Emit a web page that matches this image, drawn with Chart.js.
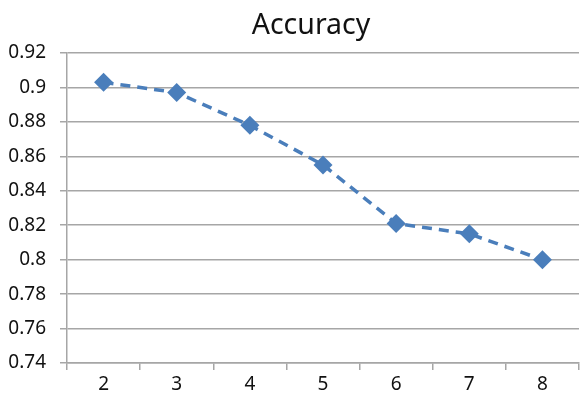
<!DOCTYPE html>
<html>
<head>
<meta charset="utf-8">
<script src="https://cdn.jsdelivr.net/npm/chart.js@4/dist/chart.umd.min.js"></script>
<style>
  html, body { margin: 0; padding: 0; background: #fff; }
  #wrap { width: 580px; height: 403px; }
</style>
</head>
<body>
<div id="wrap"><canvas id="c" width="580" height="403"></canvas></div>
<script>
// Accuracy per setting (x = 2..8)
const categories = ['2', '3', '4', '5', '6', '7', '8'];
const accuracy = [0.903, 0.897, 0.878, 0.855, 0.821, 0.815, 0.800];
const yTicks = [0.74, 0.76, 0.78, 0.80, 0.82, 0.84, 0.86, 0.88, 0.90, 0.92];
const titleText = 'Accuracy';

const FONT = '"Noto Sans", "Open Sans", sans-serif';
const BLUE = '#4A7EBB';
const GRID = '#A6A6A6';

// Title centred over the plotting area
const titlePlugin = {
  id: 'plotTitle',
  afterDraw(chart) {
    const { ctx } = chart;
    ctx.save();
    ctx.font = '28.5px ' + FONT;
    ctx.fillStyle = '#111';
    ctx.textAlign = 'center';
    ctx.textBaseline = 'middle';
    ctx.fillText(titleText, 311, 26);
    ctx.restore();
  }
};

new Chart(document.getElementById('c'), {
  type: 'line',
  data: {
    labels: categories,
    datasets: [{
      data: accuracy,
      borderColor: BLUE,
      backgroundColor: BLUE,
      borderWidth: 3.5,
      borderDash: [10, 7],
      tension: 0,
      pointStyle: 'rectRot',
      pointRadius: 9.5,
      pointHoverRadius: 9.5,
      pointBackgroundColor: BLUE,
      pointBorderColor: BLUE,
      pointBorderWidth: 0
    }]
  },
  options: {
    responsive: false,
    animation: false,
    events: [],
    layout: { autoPadding: false, padding: { top: 53, right: 1, left: 0, bottom: 0 } },
    plugins: {
      legend: { display: false },
      title: { display: false },
      tooltip: { enabled: false }
    },
    scales: {
      x: {
        offset: true,
        grid: {
          offset: true,
          drawOnChartArea: false,
          drawTicks: true,
          tickLength: 7,
          color: GRID,
          lineWidth: 1.5
        },
        border: { display: true, color: GRID, width: 1.5 },
        ticks: {
          color: '#111',
          font: { family: FONT, size: 19 },
          padding: 3,
          maxRotation: 0
        },
        afterFit(scale) { scale.height = 40; }
      },
      y: {
        min: 0.74,
        max: 0.92,
        afterBuildTicks(scale) {
          scale.ticks = yTicks.map(v => ({ value: v }));
        },
        grid: {
          color: GRID,
          lineWidth: 1.5,
          drawTicks: true,
          tickLength: 7
        },
        border: { display: true, color: GRID, width: 1.5 },
        ticks: {
          color: '#111',
          font: { family: FONT, size: 19 },
          padding: 14,
          callback: v => String(Number(v.toFixed(2)))
        },
        afterFit(scale) { scale.width = 67; }
      }
    }
  },
  plugins: [titlePlugin]
});
</script>
</body>
</html>
